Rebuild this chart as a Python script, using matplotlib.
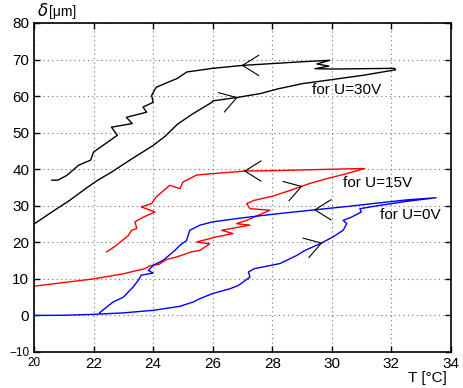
import numpy as np
import matplotlib.pyplot as plt

plt.rcParams['font.family'] = ['Liberation Sans', 'DejaVu Sans']
plt.rcParams['axes.linewidth'] = 1.2

# U = 30V loop (heating branch, then cooling branch)
black_T = [20.0, 20.6, 21.2, 21.7, 22.1, 22.6, 23.2, 24.0, 24.4, 24.8, 25.3, 25.97, 26.0,
           26.8, 27.6, 28.2, 29.0, 29.9, 31.05, 32.14,
           32.1, 31.0, 30.0, 29.43, 29.9, 29.5, 29.93, 29.0, 28.0, 27.0, 26.0, 25.13,
           24.8, 24.5, 24.1, 23.95, 24.0, 23.66, 23.78, 23.1, 23.3, 22.6, 22.8, 22.4,
           22.0, 21.9, 21.5, 21.1, 20.8, 20.6]
black_d = [25.0, 28.3, 31.5, 34.5, 36.8, 39.2, 42.4, 46.5, 49.0, 52.2, 55.0, 58.3, 58.7,
           59.6, 60.7, 62.0, 63.4, 64.4, 65.7, 67.2,
           67.6, 67.5, 67.4, 67.5, 68.2, 68.8, 69.8, 69.4, 68.9, 68.4, 67.6, 66.6,
           64.8, 63.8, 62.4, 60.2, 58.3, 57.0, 55.6, 54.2, 52.5, 51.5, 49.3, 47.0,
           44.7, 42.5, 41.1, 38.3, 37.0, 37.0]

# U = 15V loop
red_T = [20.0, 21.0, 22.0, 23.0, 23.72, 23.9, 24.2, 24.45, 24.79, 25.29, 25.57, 25.9,
         25.46, 26.13, 26.68, 26.3, 27.25, 26.8, 27.14, 27.92, 27.25, 27.14, 27.4, 28.0,
         28.6, 28.98, 29.26, 29.82, 30.5, 31.1,
         30.0, 29.0, 28.0, 27.08, 26.0, 25.46, 25.0, 24.9, 24.56, 24.1, 23.95, 23.6,
         24.06, 23.67, 23.39, 23.45, 23.28, 23.17, 22.9, 22.7, 22.44]
red_d = [8.0, 9.0, 10.0, 11.4, 12.8, 13.6, 14.0, 15.3, 16.0, 17.4, 17.8, 19.6,
         20.1, 21.5, 22.4, 23.3, 24.7, 25.1, 26.0, 28.8, 29.2, 30.6, 31.5, 32.6,
         34.2, 35.3, 36.1, 37.4, 38.8, 40.2,
         40.0, 39.8, 39.6, 39.5, 38.8, 38.4, 36.5, 34.7, 35.6, 32.4, 30.6, 29.7,
         28.3, 26.9, 25.6, 23.8, 23.3, 21.9, 20.1, 18.8, 17.4]

# U = 0V loop
blue_T = [20.0, 21.0, 22.0, 23.0, 24.0, 24.9, 25.35, 25.57, 26.0, 26.58, 26.86, 27.25,
          27.2, 27.4, 28.26, 28.82, 29.1, 29.65, 30.04, 30.38, 30.5, 30.38, 30.66, 30.99,
          30.94, 31.6, 32.5, 33.5,
          32.5, 31.6, 30.5, 29.43, 28.26, 27.0, 26.0, 25.57, 25.23, 25.12, 24.9, 24.73,
          24.34, 24.0, 23.84, 24.0, 23.6, 23.5, 23.33, 23.0, 22.66, 22.3, 22.2]
blue_d = [0.0, 0.05, 0.3, 0.7, 1.4, 2.5, 3.7, 4.6, 6.0, 7.3, 8.2, 10.5,
          11.9, 12.8, 14.2, 16.4, 17.8, 19.8, 21.5, 23.3, 25.1, 26.0, 26.9, 28.3,
          29.2, 30.1, 31.2, 32.2,
          31.6, 30.8, 29.8, 28.9, 27.9, 26.7, 25.6, 24.7, 23.3, 20.5, 19.2, 17.8,
          15.1, 13.7, 12.3, 11.6, 11.0, 9.6, 7.8, 5.0, 3.7, 1.4, 0.7]

# arrow tips (T, delta, direction in degrees)
arrows = [(27.0, 68.4, 180), (26.81, 59.6, 17),
          (27.08, 39.5, 180), (28.98, 35.3, 17),
          (29.43, 28.9, 180), (29.65, 19.8, 17)]

labels = [(29.32, 61.6, 'for U=30V'), (30.38, 36.1, 'for U=15V'), (31.6, 27.4, 'for U=0V')]

fig = plt.figure(figsize=(4.63, 3.88), dpi=100)
ax = fig.add_axes([34 / 463, 1 - 352 / 388, 417 / 463, 329 / 388])

ax.plot(black_T, black_d, color='k', lw=1.0)
ax.plot(red_T, red_d, color='#ff0000', lw=1.0)
ax.plot(blue_T, blue_d, color='#0000ff', lw=1.0)

ax.set_xlim(20, 34)
ax.set_ylim(-10, 80)
ax.set_xticks(range(20, 35, 2))
ax.set_yticks(range(-10, 81, 10))
ax.tick_params(direction='in', top=True, right=True, length=4, width=1, labelsize=11)
ax.xaxis.get_ticklabels()[0].set_fontsize(8.5)
ax.yaxis.get_ticklabels()[0].set_fontsize(8.5)
ax.grid(True, linestyle=(0, (1, 3)), color='0.45', linewidth=0.8)


def chevron(x, y, ang, length=19, half=32):
    tip = ax.transData.transform((x, y))
    inv = ax.transData.inverted()
    for s in (-1, 1):
        a = np.radians(ang + 180 + s * half)
        end = tip + length * np.array([np.cos(a), np.sin(a)])
        p = inv.transform([tip, end])
        ax.plot(p[:, 0], p[:, 1], color='k', lw=0.8)


for x, y, a in arrows:
    chevron(x, y, a)

for x, y, s in labels:
    ax.text(x, y, s, fontsize=11, va='center', ha='left')

ax.text(0.007, 1.012, r'$\delta$', transform=ax.transAxes, fontsize=12, va='bottom')
ax.text(0.036, 1.012, '[μm]', transform=ax.transAxes, fontsize=10, va='bottom')
ax.text(0.99, -0.078, 'T [°C]', transform=ax.transAxes, fontsize=11, ha='right', va='center')

fig.savefig('out.png', dpi=100)
